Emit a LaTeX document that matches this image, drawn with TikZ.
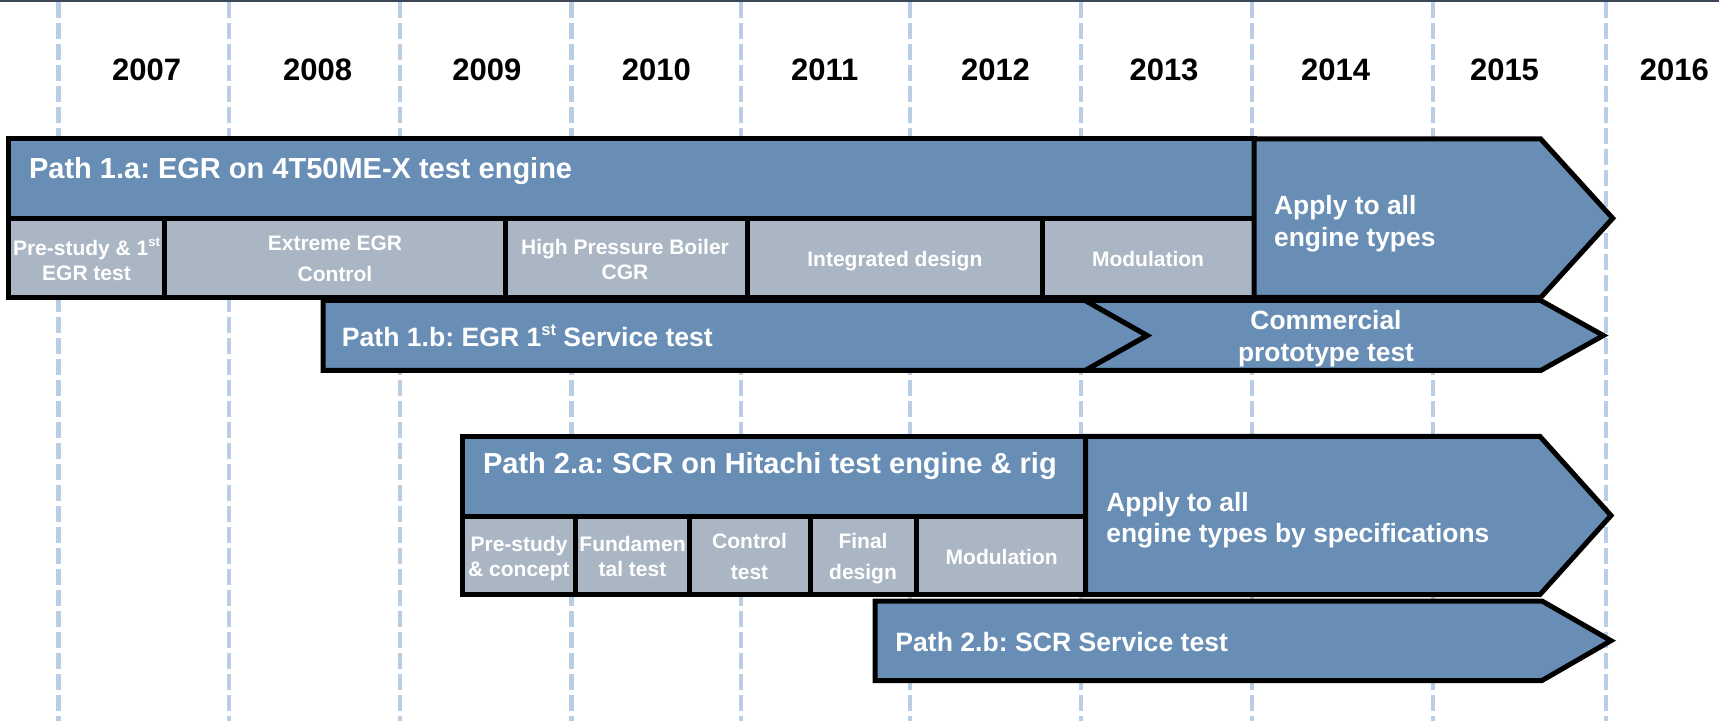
\documentclass[tikz,border=0pt]{standalone}
\usepackage{fontspec}
\setmainfont{Liberation Sans}
\frenchspacing
\definecolor{barblue}{RGB}{104,142,181}
\definecolor{cellgray}{RGB}{170,182,196}
\definecolor{gridblue}{RGB}{185,205,228}
\definecolor{topline}{RGB}{60,72,88}
\newcommand{\supst}[1]{\raisebox{0.42em}{\scalebox{0.62}{#1}}}
\tikzset{
 border/.style={draw=black, line width=2.5pt, line join=miter},
 gridline/.style={draw=gridblue, line width=2.25pt, dash pattern=on 8pt off 2.5pt},
 yearlabel/.style={anchor=base, inner sep=0pt, font=\bfseries\fontsize{15.5}{18}\selectfont},
 pathtitle/.style={anchor=base west, inner sep=0pt, text=white, font=\bfseries\fontsize{14.5}{17}\selectfont},
 subtitle/.style={anchor=base west, inner sep=0pt, text=white, font=\bfseries\fontsize{13.3}{15.85}\selectfont},
 applytext/.style={anchor=west, align=left, inner sep=0pt, text=white, font=\bfseries\fontsize{13.2}{15.85}\selectfont},
 centertext/.style={align=center, inner sep=0pt, text=white, font=\bfseries\fontsize{13.2}{15.85}\selectfont},
 celltext/.style={align=center, inner sep=0pt, text=white, font=\bfseries\fontsize{10.5}{12.5}\selectfont},
 cellwide/.style={align=center, inner sep=0pt, text=white, font=\bfseries\fontsize{10.5}{15.5}\selectfont},
 cellone/.style={anchor=base, inner sep=0pt, text=white, font=\bfseries\fontsize{10.5}{12.5}\selectfont},
}
\begin{document}
\begin{tikzpicture}[x=0.5pt,y=-0.5pt]
\useasboundingbox (0,0) rectangle (1719,721);
\fill[white] (0,0) rectangle (1719,721);
\fill[topline] (0,0) rectangle (1719,2);
% grid lines
\foreach \x in {58.5,229,400,571.5,741,910,1081,1252,1433,1606}
  \draw[gridline] (\x,2) -- (\x,721);
% years
\foreach \yr/\x in {2007/146.6,2008/317.6,2009/486.8,2010/656.4,2011/824.8,2012/995.5,2013/1164,2014/1335.7,2015/1504.5,2016/1674.3}
  \node[yearlabel] (y\yr) at (\x,80.1) {\yr};

% ---- Path 1.b and commercial chevron
\draw[border, fill=barblue] (1085,300.5) -- (1540.7,300.5) -- (1603.4,335.5) -- (1540.7,370.5) -- (1085,370.5) -- (1147,335.5) -- cycle;
\draw[border, fill=barblue] (323,300.5) -- (1085,300.5) -- (1147,335.5) -- (1085,370.5) -- (323,370.5) -- cycle;

% ---- Path 1.a
\fill[barblue] (8.6,139) rectangle (1254,219);
\fill[cellgray] (8.6,219) rectangle (1254,297.5);
\draw[border] (8.6,139) rectangle (1254,297.5);
\draw[border] (8.6,219) -- (1254,219);
\foreach \x in {164.4,505,747,1042} \draw[border] (\x,219) -- (\x,297.5);
\draw[border, fill=barblue] (1254,139) -- (1540.7,139) -- (1612.7,218.3) -- (1540.7,297.5) -- (1254,297.5) -- cycle;

% ---- Path 2.b
\draw[border, fill=barblue] (875,601) -- (1542,601) -- (1611,640.7) -- (1542,680.5) -- (875,680.5) -- cycle;

% ---- Path 2.a
\fill[barblue] (462.5,436.5) rectangle (1085.5,516.5);
\fill[cellgray] (462.5,516.5) rectangle (1085.5,594.5);
\draw[border] (462.5,436.5) rectangle (1085.5,594.5);
\draw[border] (462.5,516.5) -- (1085.5,516.5);
\foreach \x in {575.5,689,810.5,916.5} \draw[border] (\x,516.5) -- (\x,594.5);
\draw[border, fill=barblue] (1085.5,436.5) -- (1540,436.5) -- (1611,515.5) -- (1540,594.5) -- (1085.5,594.5) -- cycle;

% ---- texts
\node[pathtitle] (p1a) at (28.7,178.7) {Path 1.a: EGR on 4T50ME-X test engine};
\node[celltext] (c1) at (86.5,259) {Pre-study \& 1\supst{st}\\EGR test};
\node[cellwide] (c2) at (335,259.2) {Extreme EGR\\Control};
\node[celltext] (c3) at (625,259.2) {High Pressure Boiler\\CGR};
\node[cellone] (c4) at (894.9,266.7) {Integrated design};
\node[cellone] (c5) at (1148,266.7) {Modulation};
\node[applytext] (a1) at (1273.7,223.7) {Apply to all\\engine types};
\node[subtitle] (p1b) at (341.5,346.2) {Path 1.b: EGR 1\supst{st} Service test};
\node[centertext] (com) at (1326,338.7) {Commercial\\prototype test};

\node[pathtitle] (p2a) at (482.7,473.7) {Path 2.a: SCR on Hitachi test engine \& rig};
\node[celltext] (d1) at (519,558.4) {Pre-study\\\& concept};
\node[celltext] (d2) at (632.5,556) {Fundamen\\tal test};
\node[cellwide] (d3) at (749.5,556.2) {Control\\test};
\node[cellwide] (d4) at (863,558.4) {Final\\design};
\node[cellone] (d5) at (1001.7,564) {Modulation};
\node[applytext] (a2) at (1106,520.3) {Apply to all\\engine types by specifications};
\node[subtitle] (p2b) at (895,651.2) {Path 2.b: SCR Service test};
\end{tikzpicture}
\end{document}
